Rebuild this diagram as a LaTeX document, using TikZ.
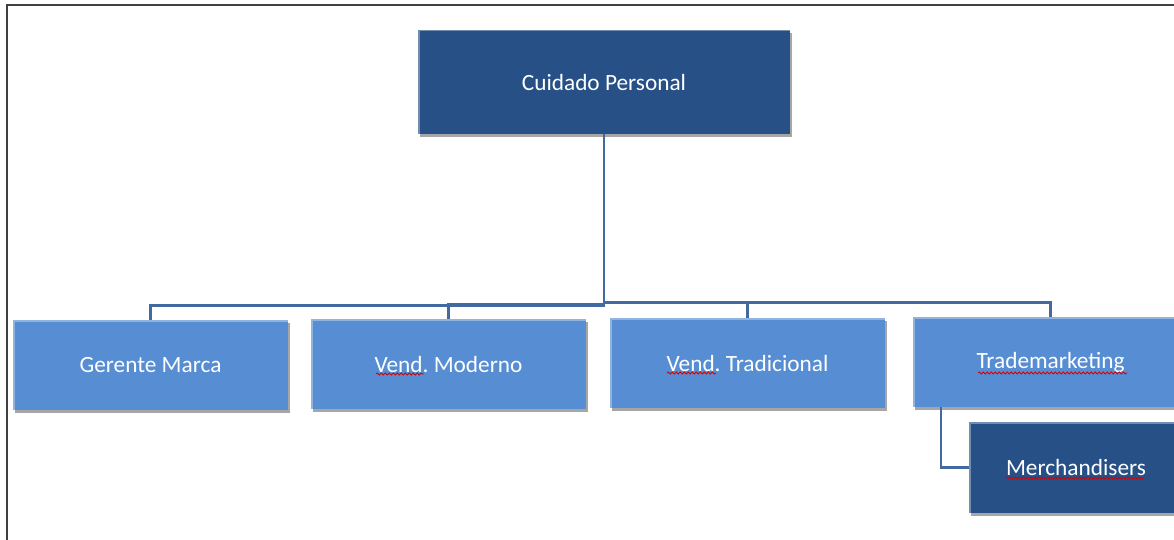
\documentclass[tikz,border=0pt]{standalone}
\usepackage{fontspec}
\setmainfont{Carlito}
\usetikzlibrary{shadows,decorations.pathmorphing}

\definecolor{unitDark}{RGB}{38,80,134}
\definecolor{unitLight}{RGB}{86,141,211}
\definecolor{linkBlue}{RGB}{66,106,160}

\begin{document}
\frenchspacing
\begin{tikzpicture}[x=1pt, y=-1pt,
    unit/.style={draw=none, text=white, inner sep=0pt,
        font=\fontsize{23.3}{27}\selectfont,
        drop shadow={shadow xshift=2pt, shadow yshift=-3pt, opacity=0.35, fill=black},
        path picture={\draw[white, opacity=0.35, line width=3pt]
            (path picture bounding box.south west) -- (path picture bounding box.north west)
            -- (path picture bounding box.north east);}},
    darkunit/.style={unit, fill=unitDark},
    lightunit/.style={unit, fill=unitLight, minimum width=275pt, minimum height=90pt},
    link/.style={draw=linkBlue, line width=2.4pt},
    squig/.style={draw=red!85!black, line width=0.8pt, decorate,
        decoration={snake, amplitude=1.1pt, segment length=4pt}}]

    % Rahmen
    \useasboundingbox (0,0) rectangle (1174,540);
    \draw[black!75, line width=1.6pt] (7,540) -- (7,5) -- (1174,5);

    % Kopf
    \node[darkunit, minimum width=372pt, minimum height=104pt] (cp) at (604,82) {Cuidado Personal};

    % Bereiche
    \node[lightunit] (gm) at (150.5,365) {Gerente Marca};
    \node[lightunit] (vm) at (448.5,364) {Vend. Moderno};
    \node[lightunit] (vt) at (747.5,363) {Vend. Tradicional};
    \node[lightunit] (tm) at (1050.5,362) {Trademarketing};
    \node[darkunit, minimum width=214pt, minimum height=91pt] (me) at (1076,467.5) {Merchandisers};

    % Verbindungen
    \draw[link] (cp.south) |- (gm.north |- 0,305.5) -- (gm.north);
    \draw[link] (cp.south) |- (vm.north |- 0,304) -- (vm.north);
    \draw[link] (cp.south) |- (vt.north |- 0,302.5) -- (vt.north);
    \draw[link] (cp.south) |- (tm.north |- 0,302.5) -- (tm.north);
    \draw[link] (tm.south -| 941,0) |- (me.west);

    % Rechtschreibmarken
    \draw[squig] (376,374) -- (424,374);
    \draw[squig] (667,373) -- (716,373);
    \draw[squig] (978,373) -- (1127,373);
    \draw[squig] (1006,478) -- (1143,478);

\end{tikzpicture}
\end{document}
